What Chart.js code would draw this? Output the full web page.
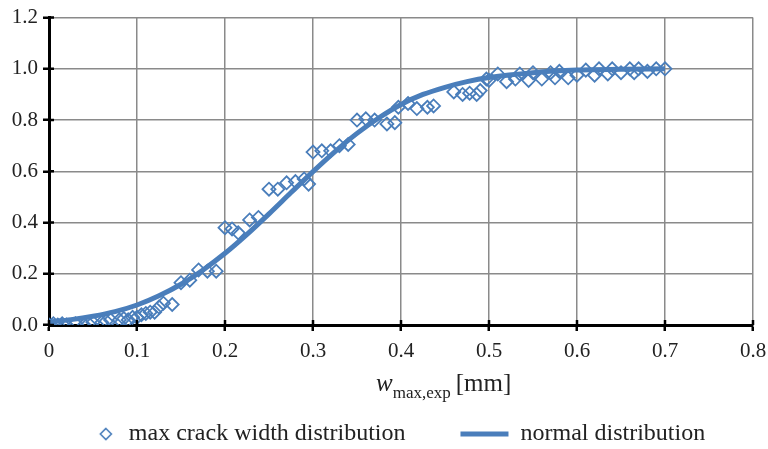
<!DOCTYPE html>
<html lang="en">
<head>
    <meta charset="UTF-8">
    <script src="https://cdn.jsdelivr.net/npm/chart.js"></script>
    <title>Crack width distribution</title>
    <style>
        html, body { margin: 0; padding: 0; background: #fff; }
        #wrap { width: 768px; height: 449px; }
    </style>
</head>
<body>
    <div id="wrap"><canvas id="crackChart"></canvas></div>
    <script>
        // measured crack widths [mm] and their cumulative frequency
        var crackX = [0, 0.005, 0.01, 0.015, 0.02, 0.03, 0.04, 0.045, 0.05, 0.06, 0.065, 0.07, 0.08, 0.085, 0.09, 0.095,
            0.1, 0.105, 0.11, 0.115, 0.12, 0.125, 0.13, 0.14,
            0.15, 0.16, 0.17, 0.18, 0.19,
            0.2, 0.208, 0.215, 0.228, 0.238,
            0.25, 0.26, 0.27, 0.28, 0.29, 0.295,
            0.3, 0.31, 0.32, 0.33, 0.34,
            0.35, 0.36, 0.37, 0.384, 0.393,
            0.397, 0.408, 0.418, 0.43, 0.437,
            0.46, 0.47, 0.478, 0.486, 0.49,
            0.497, 0.5, 0.51, 0.52, 0.53, 0.535, 0.545, 0.55, 0.56, 0.57, 0.575, 0.58, 0.59,
            0.6, 0.61, 0.62, 0.625, 0.635, 0.64, 0.65, 0.66, 0.665, 0.67, 0.68, 0.69, 0.7];
        var crackY = [0, 0.005, 0, 0.005, 0, 0.005, 0, 0.005, 0.01, 0.01, 0.015, 0.02, 0.02, 0.025, 0.02, 0.03,
            0.03, 0.04, 0.045, 0.05, 0.05, 0.07, 0.085, 0.08,
            0.165, 0.175, 0.215, 0.21, 0.21,
            0.38, 0.375, 0.36, 0.41, 0.42,
            0.53, 0.53, 0.555, 0.56, 0.57, 0.55,
            0.675, 0.68, 0.68, 0.7, 0.705,
            0.8, 0.805, 0.8, 0.785, 0.79,
            0.85, 0.865, 0.845, 0.85, 0.855,
            0.91, 0.9, 0.905, 0.9, 0.915,
            0.96, 0.955, 0.98, 0.95, 0.96, 0.98, 0.955, 0.985, 0.96, 0.985, 0.965, 0.99, 0.965,
            0.975, 0.995, 0.975, 1.0, 0.98, 1.0, 0.985, 1.0, 0.985, 1.0, 0.99, 1.0, 1.0];

        // fitted normal distribution curve
        var normalX = [0, 0.025, 0.05, 0.075, 0.1, 0.125, 0.15, 0.175, 0.2, 0.225, 0.25, 0.275, 0.3, 0.325,
            0.35, 0.375, 0.4, 0.425, 0.45, 0.475, 0.5, 0.55, 0.6, 0.65, 0.7];
        var normalY = [0.012, 0.021, 0.034, 0.052, 0.078, 0.114, 0.159, 0.215, 0.28, 0.354, 0.434, 0.517, 0.599, 0.677,
            0.748, 0.809, 0.861, 0.9, 0.928, 0.95, 0.966, 0.985, 0.995, 0.998, 1.0];

        var seriesNames = ['max crack width distribution', 'normal distribution'];
        var blue = '#4a7ebb';

        function pairs(xs, ys) {
            return xs.map(function (x, i) { return {x: x, y: ys[i]}; });
        }

        // small diamond for the legend, as an image so the 48px line box does not stretch it
        var legendDiamond = document.createElement('canvas');
        legendDiamond.width = 48;
        legendDiamond.height = 14;
        (function () {
            var c = legendDiamond.getContext('2d');
            c.strokeStyle = blue;
            c.lineWidth = 1.6;
            c.beginPath();
            c.moveTo(37, 1.5); c.lineTo(42.5, 7); c.lineTo(37, 12.5); c.lineTo(31.5, 7); c.closePath();
            c.stroke();
        })();

        // draws the tick marks that cross the axes and the x-axis title with its subscript
        var extras = {
            id: 'extras',
            afterDraw: function (chart) {
                var ctx = chart.ctx;
                var area = chart.chartArea;
                var xs = chart.scales.x, ys = chart.scales.y;
                ctx.save();
                ctx.strokeStyle = '#000';
                ctx.lineWidth = 2.5;
                ctx.beginPath();
                xs.ticks.forEach(function (t) {
                    var px = xs.getPixelForValue(t.value);
                    ctx.moveTo(px, area.bottom);
                    ctx.lineTo(px, area.bottom - 5);
                });
                ys.ticks.forEach(function (t) {
                    var py = ys.getPixelForValue(t.value);
                    ctx.moveTo(area.left, py);
                    ctx.lineTo(area.left + 5, py);
                });
                ctx.stroke();

                // w_max,exp [mm]
                var x0 = 376, base = area.bottom + 66;
                ctx.fillStyle = '#222';
                ctx.textBaseline = 'alphabetic';
                ctx.textAlign = 'left';
                ctx.font = 'italic 25px "Liberation Serif"';
                ctx.fillText('w', x0, base);
                x0 += ctx.measureText('w').width;
                ctx.font = '17px "Liberation Serif"';
                ctx.fillText('max,exp', x0, base + 7);
                x0 += ctx.measureText('max,exp').width + 5;
                ctx.font = '25px "Liberation Serif"';
                ctx.fillText('[mm]', x0, base);
                ctx.restore();
            }
        };

        var ctx = document.getElementById('crackChart').getContext('2d');
        var crackChart = new Chart(ctx, {
            type: 'scatter',
            data: {
                datasets: [{
                    label: seriesNames[0],
                    data: pairs(crackX, crackY),
                    pointStyle: 'rectRot',
                    pointRadius: 6.5,
                    pointBorderWidth: 1.8,
                    borderColor: blue,
                    backgroundColor: 'rgba(255,255,255,0)',
                    showLine: false,
                    order: 2
                }, {
                    label: seriesNames[1],
                    data: pairs(normalX, normalY),
                    showLine: true,
                    borderColor: blue,
                    backgroundColor: blue,
                    borderWidth: 5,
                    pointRadius: 0,
                    pointStyle: 'line',
                    cubicInterpolationMode: 'monotone',
                    order: 1
                }]
            },
            options: {
                responsive: true,
                maintainAspectRatio: false,
                animation: false,
                layout: {padding: {top: 15, right: -6, left: 0, bottom: -7}},
                plugins: {
                    tooltip: {enabled: false},
                    legend: {
                        position: 'bottom',
                        labels: {
                            usePointStyle: true,
                            pointStyleWidth: 48,
                            boxHeight: 8,
                            padding: 55,
                            color: '#222',
                            font: {family: '"Liberation Serif"', size: 24},
                            sort: function (a, b) { return a.datasetIndex - b.datasetIndex; },
                            generateLabels: function (chart) {
                                var items = Chart.defaults.plugins.legend.labels.generateLabels(chart);
                                items.forEach(function (it) {
                                    if (it.datasetIndex === 0) it.pointStyle = legendDiamond;
                                });
                                return items;
                            }
                        }
                    }
                },
                scales: {
                    x: {
                        type: 'linear',
                        min: 0,
                        max: 0.8,
                        afterFit: function (scale) { scale.height = 42; scale.paddingRight = 15; },
                        border: {display: true, color: '#000', width: 3},
                        grid: {color: '#8a8a8a', lineWidth: 1.5, tickColor: '#000', tickWidth: 2.5, tickLength: 6},
                        ticks: {
                            stepSize: 0.1,
                            padding: 8,
                            color: '#222',
                            font: {family: '"Liberation Serif"', size: 21},
                            callback: function (v) { return v === 0 ? '0' : v.toFixed(1); }
                        }
                    },
                    y: {
                        min: 0,
                        max: 1.2,
                        afterFit: function (scale) { scale.width = 49; },
                        border: {display: true, color: '#000', width: 3},
                        grid: {color: '#8a8a8a', lineWidth: 1.5, tickColor: '#000', tickWidth: 2.5, tickLength: 6},
                        ticks: {
                            stepSize: 0.2,
                            padding: 5,
                            color: '#222',
                            font: {family: '"Liberation Serif"', size: 21},
                            callback: function (v) { return v.toFixed(1); }
                        }
                    }
                }
            },
            plugins: [extras]
        });
    </script>
</body>
</html>
